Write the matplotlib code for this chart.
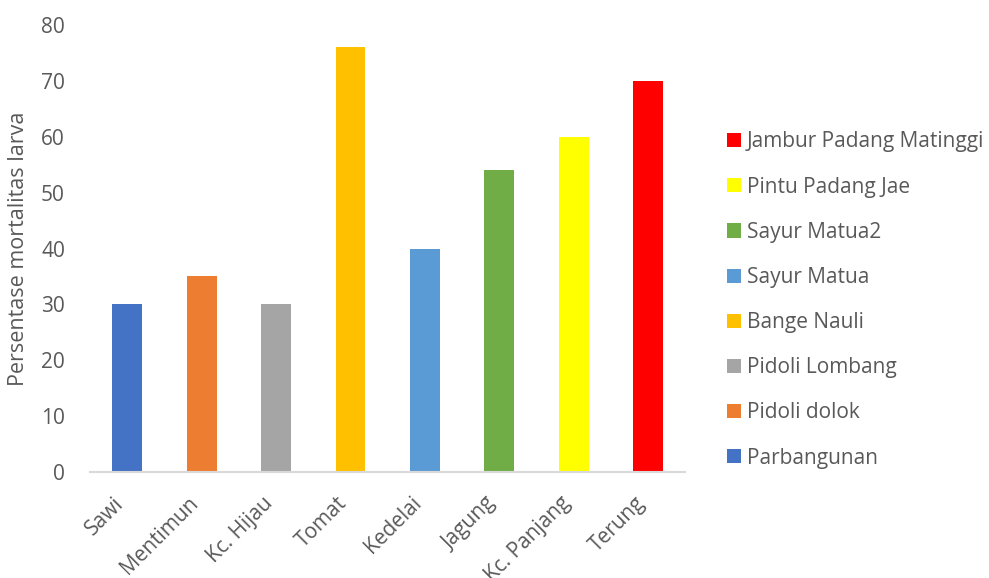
import matplotlib
matplotlib.use("Agg")
import matplotlib.pyplot as plt
from matplotlib.patches import Patch
from matplotlib.transforms import ScaledTranslation

categories = ["Sawi", "Mentimun", "Kc. Hijau", "Tomat", "Kedelai", "Jagung", "Kc. Panjang", "Terung"]
values = [30, 35, 30, 76, 40, 54, 60, 70]
locations = ["Parbangunan", "Pidoli dolok", "Pidoli Lombang", "Bange Nauli",
             "Sayur Matua", "Sayur Matua2", "Pintu Padang Jae", "Jambur Padang Matinggi"]
colors = ["#4472C4", "#ED7D31", "#A5A5A5", "#FFC000", "#5B9BD5", "#70AD47", "#FFFF00", "#FF0000"]

text_color = "#595959"
plt.rcParams["font.family"] = ["Open Sans", "DejaVu Sans"]

fig = plt.figure(figsize=(9.89, 5.78), dpi=100)
ax = fig.add_axes((0.091, 0.1834, 0.602, 0.7733))

x = range(len(categories))
ax.bar(x, values, width=0.4, color=colors, zorder=2)

ax.set_xlim(-0.5, len(categories) - 0.5)
ax.set_ylim(0, 80)
ax.set_yticks(range(0, 81, 10))
ax.set_xticks(list(x))
ax.set_xticklabels(categories, rotation=45, ha="right", rotation_mode="anchor")

for side in ["top", "right", "left"]:
    ax.spines[side].set_visible(False)
ax.spines["bottom"].set_color("#D9D9D9")
ax.spines["bottom"].set_linewidth(1.5)
ax.tick_params(axis="both", length=0, labelsize=15, colors=text_color)
ax.tick_params(axis="x", pad=15)
ax.tick_params(axis="y", pad=18)

# nudge the rotated category labels left, like Excel places them
shift = ScaledTranslation(-0.14, 0, fig.dpi_scale_trans)
for lbl in ax.get_xticklabels():
    lbl.set_transform(lbl.get_transform() + shift)

ax.set_ylabel("Persentase mortalitas larva", fontsize=15.5, color=text_color, labelpad=9)

handles = [Patch(facecolor=c) for c in colors][::-1]
fig.legend(handles, locations[::-1], loc="center left", bbox_to_anchor=(0.716, 0.481),
           frameon=False, fontsize=15, labelcolor=text_color, handlelength=0.67,
           handleheight=0.67, handletextpad=0.3, labelspacing=1.16)

fig.savefig("out.png", dpi=100)
